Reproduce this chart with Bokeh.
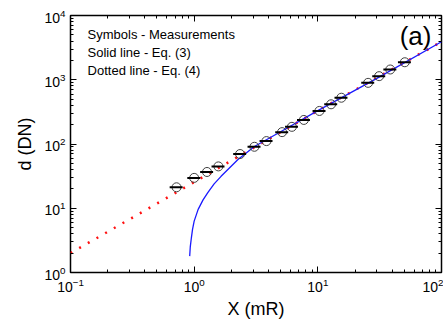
from bokeh.plotting import figure
from bokeh.models import LogAxis, Range1d, Label, ColumnDataSource, FixedTicker, CustomJSTickFormatter
from bokeh.embed import file_html
from bokeh.resources import INLINE

# Measurements (symbols)
meas_x = [0.72, 1.0, 1.27, 1.57, 2.35, 3.07, 3.84, 5.14, 6.17, 7.71, 10.3, 12.8, 15.5, 25.5, 31.3, 38.5, 50.5]
meas_y = [21.2, 29.7, 36.7, 44.8, 69.8, 90.5, 111, 153, 185, 237, 327, 415, 525, 895, 1137, 1444, 1873]
meas_xerr_frac = [0.12] * len(meas_x)

# Eq. (3) solid line
eq3_x = [0.92, 0.93, 0.95, 0.97, 1.0, 1.077, 1.18, 1.285, 1.45, 1.65, 2.25, 3.07, 5.0, 10.0, 30.0, 100.0]
eq3_y = [1.8, 2.5, 3.5, 4.7, 6.3, 9.6, 13.5, 17.4, 24, 31.4, 56.9, 91.4, 155, 330, 1050, 3900]

# Eq. (4) dotted line
eq4_x = [0.1, 1.0, 10.0, 100.0]
eq4_y = [2.0, 25.5, 330, 3900]

x_major = [0.1, 1, 10, 100]
y_major = [1, 10, 100, 1000, 10000]

FONT = "Liberation Sans"

p = figure(width=443, height=321, x_axis_type="log", y_axis_type="log",
           x_range=Range1d(0.1, 100), y_range=Range1d(1, 1e4),
           output_backend="svg", toolbar_location=None,
           min_border_left=70, min_border_right=2, min_border_top=15, min_border_bottom=48)
p.grid.visible = False
p.outline_line_color = "black"
p.outline_line_width = 1.5
p.background_fill_color = "white"
p.border_fill_color = "white"

x_minor = [m * 10.0 ** e for e in range(-1, 2) for m in range(2, 10)]
y_minor = [m * 10.0 ** e for e in range(0, 4) for m in range(2, 10)]

def style(ax, ticker):
    ax.ticker = ticker
    ax.axis_line_color = None
    ax.major_tick_in = 6
    ax.major_tick_out = 0
    ax.minor_tick_in = 3
    ax.minor_tick_out = 0
    ax.major_tick_line_color = "black"
    ax.minor_tick_line_color = "black"
    ax.major_label_text_font = FONT
    ax.major_label_text_font_size = "14px"
    ax.major_label_text_color = "black"
    ax.axis_label_text_font = FONT
    ax.axis_label_text_font_size = "18px"
    ax.axis_label_text_font_style = "normal"
    ax.axis_label_text_color = "black"

style(p.xaxis[0], FixedTicker(ticks=x_major, minor_ticks=x_minor))
style(p.yaxis[0], FixedTicker(ticks=y_major, minor_ticks=y_minor))
p.xaxis[0].axis_label = "X (mR)"
p.yaxis[0].axis_label = "d (DN)"
p.xaxis[0].axis_label_standoff = 4
p.yaxis[0].axis_label_standoff = 6

blank = "return ''"
top = LogAxis(formatter=CustomJSTickFormatter(code=blank))
style(top, FixedTicker(ticks=x_major, minor_ticks=x_minor))
top.major_label_text_font_size = "1px"
top.major_label_standoff = 0
p.add_layout(top, "above")
right = LogAxis(formatter=CustomJSTickFormatter(code=blank))
style(right, FixedTicker(ticks=y_major, minor_ticks=y_minor))
right.major_label_text_font_size = "1px"
right.major_label_standoff = 0
p.add_layout(right, "right")

# lines
p.line(eq4_x, eq4_y, line_color="#ff1010", line_width=2.5, line_dash="2 8")
p.line(eq3_x, eq3_y, line_color="#1a1aff", line_width=1.3)

# measurements
x0 = [x * (1 - f) for x, f in zip(meas_x, meas_xerr_frac)]
x1 = [x * (1 + f) for x, f in zip(meas_x, meas_xerr_frac)]
src = ColumnDataSource(dict(x=meas_x, y=meas_y, x0=x0, x1=x1))
p.scatter("x", "y", source=src, marker="circle", size=9, fill_alpha=0,
          line_color="#404040", line_width=1)
p.segment("x0", "y", "x1", "y", source=src, line_color="black", line_width=2)

for txt, yy in [("Symbols - Measurements", 5080), ("Solid line - Eq. (3)", 2673),
                ("Dotted line - Eq. (4)", 1409)]:
    p.add_layout(Label(x=0.1374, y=yy, text=txt, text_font=FONT, text_font_size="13px",
                       text_baseline="middle", text_align="left", text_color="black"))
p.add_layout(Label(x=61.7, y=4786, text="(a)", text_font=FONT, text_font_size="26px",
                   text_baseline="middle", text_align="center", text_color="black"))

open("out.html", "w").write(file_html(p, INLINE))
